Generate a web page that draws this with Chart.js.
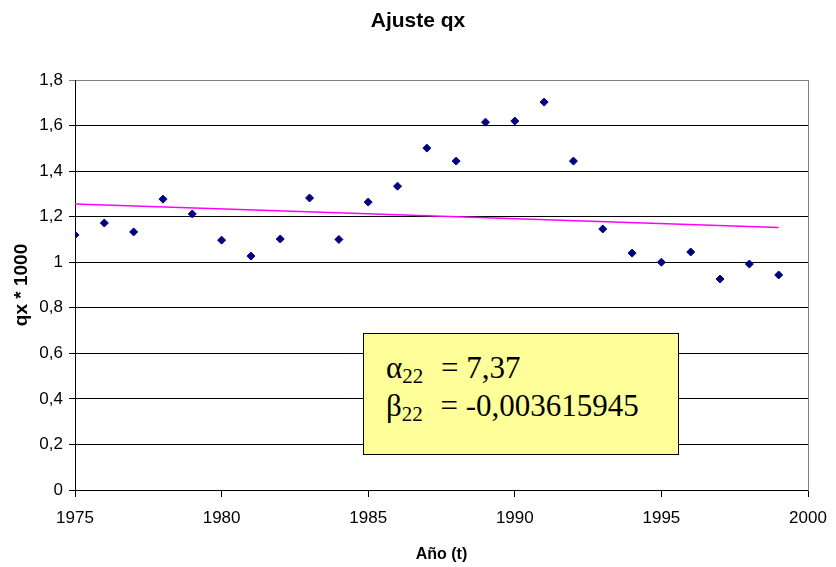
<!DOCTYPE html>
<html>
<head>
<meta charset="utf-8">
<script src="https://cdn.jsdelivr.net/npm/chart.js@4/dist/chart.umd.min.js"></script>
<style>
  body { margin: 0; background: #fff; }
  #wrap { position: relative; width: 836px; height: 567px; }
  #box {
    position: absolute; left: 363px; top: 333px; width: 316px; height: 122px;
    background: #ffff99; border: 1px solid #000;
    font-family: "Liberation Serif", "DejaVu Serif", serif; font-size: 31px; color: #000;
    padding: 15px 0 0 22px; box-sizing: border-box; line-height: 38px;
  }
  #box sub { font-size: 21px; vertical-align: -5px; line-height: 0; margin-right: 10px; }
</style>
</head>
<body>
<div id="wrap">
  <canvas id="chart" width="836" height="567"></canvas>
  <div id="box">
    <div>&alpha;<sub>22</sub> = 7,37</div>
    <div>&beta;<sub>22</sub> = -0,003615945</div>
  </div>
</div>
<script>
// observed qx * 1000 by year
let years = [1975, 1976, 1977, 1978, 1979, 1980, 1981, 1982, 1983, 1984, 1985, 1986, 1987,
             1988, 1989, 1990, 1991, 1992, 1993, 1994, 1995, 1996, 1997, 1998, 1999];
let qx = [1.12, 1.172, 1.133, 1.277, 1.212, 1.097, 1.027, 1.102, 1.282, 1.10, 1.264, 1.334, 1.501,
          1.444, 1.615, 1.62, 1.703, 1.444, 1.146, 1.04, 1.0, 1.045, 0.926, 0.992, 0.944];

// fitted line ends
let fitYears = [1975, 1999];
let fitValues = [1.256, 1.152];

let xTicks = [1975, 1980, 1985, 1990, 1995, 2000];
let yTicks = [0, 0.2, 0.4, 0.6, 0.8, 1, 1.2, 1.4, 1.6, 1.8];

Chart.defaults.font.family = '"Liberation Sans", Arial, sans-serif';
Chart.defaults.color = '#000';

// centre the title over the whole canvas, like the original
const wideTitle = {
    id: 'wideTitle',
    afterLayout(chart) {
        chart.titleBlock.left = 0;
        chart.titleBlock.right = chart.width;
    }
};

let ctx = document.getElementById('chart').getContext('2d');

let qxChart = new Chart(ctx, {
    type: 'scatter',
    data: {
        datasets: [{
            label: 'qx',
            data: years.map((y, i) => ({ x: y, y: qx[i] })),
            pointStyle: 'rectRot',
            pointRadius: 4,
            backgroundColor: '#000080',
            borderColor: '#000080',
            borderWidth: 1
        }, {
            type: 'line',
            label: 'ajuste',
            data: fitYears.map((y, i) => ({ x: y, y: fitValues[i] })),
            borderColor: '#ff00ff',
            borderWidth: 1.5,
            pointRadius: 0,
            fill: false
        }]
    },
    options: {
        responsive: false,
        animation: false,
        layout: { padding: { left: 0, right: 28, top: 0, bottom: 0 } },
        plugins: {
            legend: { display: false },
            tooltip: { enabled: false },
            title: {
                display: true,
                text: 'Ajuste qx',
                font: { size: 21, weight: 'bold' },
                padding: { top: 9, bottom: 45.8 }
            }
        },
        scales: {
            x: {
                type: 'linear',
                min: 1975,
                max: 2000,
                afterBuildTicks: s => { s.ticks = xTicks.map(v => ({ value: v })); },
                afterFit: s => { s.height = 77; s.paddingRight = 0; s.paddingLeft = 0; },
                ticks: {
                    font: { size: 17 },
                    padding: 11,
                    maxRotation: 0,
                    callback: v => String(v)
                },
                grid: { drawOnChartArea: false, color: '#000', tickLength: 7 },
                border: { color: '#000' },
                title: {
                    display: true,
                    text: 'Año (t)',
                    font: { size: 16, weight: 'bold' },
                    padding: { top: 0, bottom: 3 }
                }
            },
            y: {
                min: 0,
                max: 1.8,
                afterBuildTicks: s => { s.ticks = yTicks.map(v => ({ value: v })); },
                afterFit: s => { s.width = 75; },
                ticks: {
                    font: { size: 17 },
                    padding: 6,
                    callback: v => String(Math.round(v * 10) / 10).replace('.', ',')
                },
                grid: {
                    color: c => c.index === yTicks.length - 1 ? '#808080' : '#000',
                    tickLength: 6
                },
                border: { color: '#000' },
                title: {
                    display: true,
                    text: 'qx * 1000',
                    font: { size: 19, weight: 'bold' },
                    padding: { top: 10, bottom: 0 }
                }
            },
            y2: {
                position: 'right',
                min: 0,
                max: 1.8,
                afterFit: s => { s.width = 0; },
                ticks: { display: false },
                grid: { display: false },
                border: { color: '#808080' }
            }
        }
    },
    plugins: [wideTitle]
});
</script>
</body>
</html>
